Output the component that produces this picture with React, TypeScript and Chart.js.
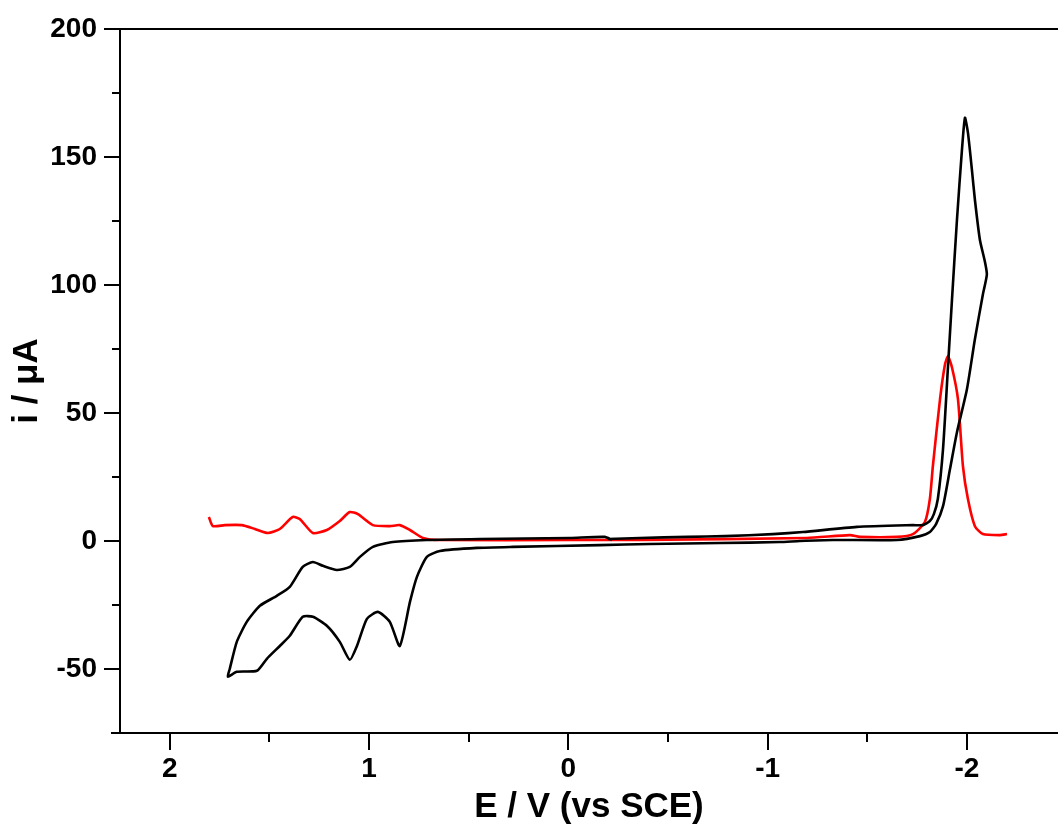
import React, { useEffect, useRef } from "react";
import { Chart, registerables } from "chart.js";

Chart.register(...registerables);

// Black cyclic voltammogram (E in V vs SCE, i in µA), traced in scan order
const blackE = [
  -0.198, -0.359, -0.6, -0.785, -1.026, -1.177, -1.448, -1.729, -1.779, -1.814, -1.834, -1.854,
  -1.88, -1.905, -1.925, -1.95, -1.975, -1.99, -2.005, -2.025, -2.04, -2.065, -2.09, -2.1,
  -2.08, -2.04, -2.0, -1.95, -1.915, -1.88, -1.845, -1.814, -1.764, -1.649, -1.328, -1.162,
  -1.06, -0.76, -0.409, -0.158, 0.279, 0.459, 0.645, 0.71, 0.76, 0.795, 0.846, 0.896, 0.956,
  1.011, 1.061, 1.097, 1.147, 1.212, 1.282, 1.333, 1.398, 1.448, 1.513, 1.563, 1.664, 1.709,
  1.699, 1.664, 1.614, 1.548, 1.463, 1.398, 1.333, 1.282, 1.232, 1.162, 1.097, 1.046, 0.981,
  0.881, 0.71, 0.444, -0.008, -0.183, -0.218,
];
const blackI = [
  0.8, 1.2, 1.6, 1.9, 2.7, 3.5, 5.5, 6.2, 6.2, 7.8, 10.5, 16.4,
  35.9, 68.2, 94.3, 125.5, 152.8, 165.3, 159.5, 145, 133.3, 117.7, 109.2, 104.1,
  96.3, 78.8, 59.3, 42.5, 28.1, 13.6, 6.6, 3.5, 1.9, 0.4, 0.4, 0,
  -0.4, -0.8, -1.2, -1.6, -2.3, -2.7, -3.9, -6.2, -14.0, -23.8, -41, -31.6, -27.7,
  -30.4, -41, -46.4, -39.4, -33.1, -29.6, -29.6, -37, -41, -46, -50.7, -51.1, -53,
  -49.9, -39.4, -31.6, -25.3, -21.4, -17.9, -10.1, -8.2, -9.7, -11.3, -10.1, -6.2, -2.3,
  -0.4, 0.4, 0.8, 1.2, 1.6, 0.4,
];

// Red curve
const redE = [
  1.804, 1.784, 1.724, 1.639, 1.573, 1.508, 1.448, 1.383, 1.348, 1.282, 1.212, 1.147, 1.097,
  1.056, 0.981, 0.896, 0.846, 0.795, 0.73, 0.645, -0.008, -0.359, -1.197, -1.413, -1.463,
  -1.649, -1.729, -1.789, -1.814, -1.829, -1.865, -1.89, -1.905, -1.925, -1.955, -1.98,
  -2.005, -2.04, -2.08, -2.166, -2.201,
];
const redI = [
  9.4, 5.8, 6.2, 6.2, 4.7, 3.1, 4.7, 9.4, 8.6, 3.1, 4.3, 7.8, 11.3,
  10.5, 6.2, 5.8, 6.2, 4.3, 1.2, 0.4, 0.4, 0.4, 1.2, 2.3, 1.6,
  1.6, 2.7, 7.4, 16.4, 29.2, 55.4, 69.0, 72.1, 67.8, 55.4, 29.2,
  16.4, 5.8, 2.7, 2.3, 2.7,
];

const xMajorTicks = [2, 1, 0, -1, -2];
const xMinorTicks = [1.5, 0.5, -0.5, -1.5];
const yMajorTicks = [-50, 0, 50, 100, 150, 200];
const yMinorTicks = [-25, 25, 75, 125, 175];

const FONT = '"Liberation Sans", Arial, sans-serif';

const toPoints = (xs: number[], ys: number[]) => xs.map((x, i) => ({ x, y: ys[i] }));

const axisExtras = {
  id: "axisExtras",
  afterDraw(chart: any) {
    const { ctx, chartArea } = chart;
    const { left, right, top, bottom } = chartArea;
    const xs = chart.scales.x;
    const ys = chart.scales.y;
    ctx.save();
    ctx.strokeStyle = "#000";
    ctx.lineWidth = 2;
    ctx.beginPath();
    // top frame line
    ctx.moveTo(left, top);
    ctx.lineTo(right + 2, top);
    // bottom axis extension to the left
    ctx.moveTo(left - 9, bottom);
    ctx.lineTo(left, bottom);
    yMinorTicks.forEach((v) => {
      const p = Math.round(ys.getPixelForValue(v));
      ctx.moveTo(left - 8, p);
      ctx.lineTo(left, p);
    });
    xMinorTicks.forEach((v) => {
      const p = Math.round(xs.getPixelForValue(v));
      ctx.moveTo(p, bottom);
      ctx.lineTo(p, bottom + 9);
    });
    ctx.stroke();
    ctx.restore();
  },
};

export default function App() {
  const ref = useRef<HTMLCanvasElement>(null);
  useEffect(() => {
    if (!ref.current) return;
    const chart = new Chart(ref.current, {
      type: "scatter",
      data: {
        datasets: [
          {
            label: "black",
            data: toPoints(blackE, blackI),
            showLine: true,
            borderColor: "#000000",
            borderWidth: 2.6,
            pointRadius: 0,
            tension: 0.2,
          },
          {
            label: "red",
            data: toPoints(redE, redI),
            showLine: true,
            borderColor: "#ff0000",
            borderWidth: 2.6,
            pointRadius: 0,
            tension: 0.2,
          },
        ],
      },
      options: {
        animation: false,
        responsive: false,
        devicePixelRatio: 1,
        layout: { padding: { top: 29, right: 0, left: 0, bottom: 0 } },
        plugins: { legend: { display: false }, tooltip: { enabled: false } },
        scales: {
          x: {
            type: "linear",
            reverse: true,
            min: -2.457,
            max: 2.25,
            afterBuildTicks: (s: any) => {
              s.ticks = xMajorTicks.map((v) => ({ value: v }));
            },
            afterFit: (s: any) => {
              s.height = 99;
            },
            border: { display: true, color: "#000", width: 2 },
            grid: {
              display: true,
              drawOnChartArea: false,
              drawTicks: true,
              tickLength: 17,
              color: "#000",
              lineWidth: 2,
            },
            ticks: {
              color: "#000",
              padding: 2,
              maxRotation: 0,
              font: { family: FONT, size: 28, weight: "bold" },
              callback: (v: any) => String(v),
            },
            title: {
              display: true,
              text: "E / V (vs SCE)",
              color: "#000",
              padding: { top: 0, bottom: 4 },
              font: { family: FONT, size: 35, weight: "bold" },
            },
          },
          y: {
            type: "linear",
            min: -75,
            max: 200,
            afterBuildTicks: (s: any) => {
              s.ticks = yMajorTicks.map((v) => ({ value: v }));
            },
            afterFit: (s: any) => {
              s.width = 120;
            },
            border: { display: true, color: "#000", width: 2 },
            grid: {
              display: true,
              drawOnChartArea: false,
              drawTicks: true,
              tickLength: 16,
              color: "#000",
              lineWidth: 2,
            },
            ticks: {
              color: "#000",
              padding: 7,
              font: { family: FONT, size: 28, weight: "bold" },
              callback: (v: any) => String(v),
            },
            title: {
              display: true,
              text: "i / μA",
              color: "#000",
              padding: { top: 6, bottom: 0 },
              font: { family: FONT, size: 35, weight: "bold" },
            },
          },
        },
      },
      plugins: [axisExtras],
    });
    return () => chart.destroy();
  }, []);
  return (
    <div style={{ position: "fixed", left: 0, top: 0, width: 1058, height: 832, background: "#fff" }}>
      <canvas ref={ref} width={1058} height={832} style={{ display: "block" }} />
    </div>
  );
}
